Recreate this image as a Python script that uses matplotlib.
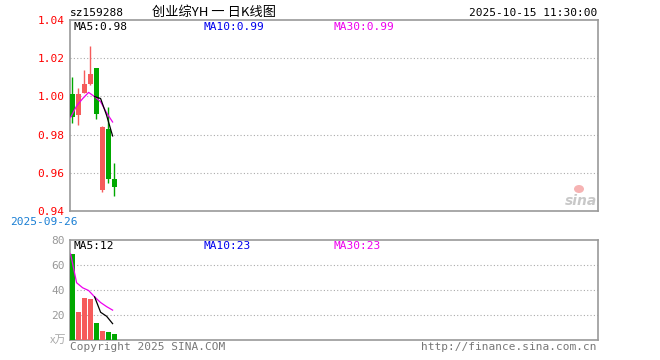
import matplotlib
matplotlib.use("Agg")
import matplotlib.pyplot as plt
from matplotlib.patches import Rectangle, Ellipse

# ── Données ───────────────────────────────────────────────────
opens  = [1.001, 0.990, 1.0016, 1.0065, 1.015, 0.951, 0.983, 0.957]
closes = [0.989, 1.001, 1.0065, 1.0118, 0.991, 0.984, 0.957, 0.9525]
highs  = [1.010, 1.0044, 1.014, 1.0263, 1.015, 0.9846, 0.9946, 0.9649]
lows   = [0.986, 0.9851, 1.0016, 1.006, 0.988, 0.9498, 0.9544, 0.9477]
ma5_price  = [None, None, None, None, 0.9999, 0.9989, 0.9901, 0.9793]
ma30_price = [0.989, 0.995, 0.9988, 1.0021, 0.9999, 0.9972, 0.9914, 0.9866]
volumes   = [68.8, 22.7, 33.9, 33.1, 13.9, 7.5, 6.7, 4.5]
ma5_vol   = [None, None, None, None, 34.5, 22.2, 19.0, 13.1]
ma30_vol  = [68.8, 45.8, 41.8, 39.6, 34.5, 30.0, 26.7, 23.9]
price_ticks = [0.94, 0.96, 0.98, 1.00, 1.02, 1.04]
vol_ticks = [20, 40, 60, 80]

RED = "#f65b5b"
GREEN = "#00a800"
FRAME = "#999999"
MONO = "DejaVu Sans Mono"
CJK = ["Noto Sans CJK SC", "DejaVu Sans"]
N_SLOTS = 88
W = 0.83

fig = plt.figure(figsize=(6.6, 3.6), dpi=100)
W_PX, H_PX = 660, 360
def axrect(x0, y0, x1, y1):
    return [x0 / W_PX, 1 - y1 / H_PX, (x1 - x0) / W_PX, (y1 - y0) / H_PX]

ax = fig.add_axes(axrect(70, 20, 598, 211))
axv = fig.add_axes(axrect(70, 240, 598, 340))

for a in (ax, axv):
    a.set_xlim(0, N_SLOTS)
    a.set_xticks([])
    for s in a.spines.values():
        s.set_color(FRAME)
        s.set_linewidth(1.2)
    a.tick_params(axis="y", length=0, pad=4)

# ── Chandeliers ───────────────────────────────────────────────
for i, (o, c, h, l) in enumerate(zip(opens, closes, highs, lows)):
    col = RED if c >= o else GREEN
    ax.vlines(i + W / 2, l, h, color=col, lw=1.0, zorder=2)
    ax.add_patch(Rectangle((i, min(o, c)), W, max(abs(c - o), 0.0003),
                           facecolor=col, edgecolor="none", zorder=3))

xs = [i + 0.1 for i in range(len(closes))]
ax.plot([x for x, v in zip(xs, ma30_price) if v is not None],
        [v for v in ma30_price if v is not None], color="#ee00ee", lw=0.9, zorder=4)
ax.plot([x for x, v in zip(xs, ma5_price) if v is not None],
        [v for v in ma5_price if v is not None], color="black", lw=0.9, zorder=5)

ax.set_ylim(0.94, 1.04)
ax.set_yticks(price_ticks)
ax.set_yticklabels([f"{t:.2f}" for t in price_ticks], color="red",
                   fontsize=8, family=MONO)
for t in price_ticks[1:-1]:
    ax.axhline(t, color="#aaaaaa", lw=0.8, ls=(0, (1, 2)), zorder=1)

# ── Volumes ───────────────────────────────────────────────────
for i, v in enumerate(volumes):
    col = RED if closes[i] >= opens[i] else GREEN
    axv.add_patch(Rectangle((i, 0), W, v, facecolor=col, edgecolor="none", zorder=3))
axv.plot([x for x, v in zip(xs, ma30_vol) if v is not None],
         [v for v in ma30_vol if v is not None], color="#ee00ee", lw=0.9, zorder=4)
axv.plot([x for x, v in zip(xs, ma5_vol) if v is not None],
         [v for v in ma5_vol if v is not None], color="black", lw=0.9, zorder=5)
axv.set_ylim(0, 80)
axv.set_yticks(vol_ticks)
axv.set_yticklabels([str(t) for t in vol_ticks], color="#999999",
                    fontsize=8, family=MONO)
for t in vol_ticks[:-1]:
    axv.axhline(t, color="#aaaaaa", lw=0.8, ls=(0, (1, 2)), zorder=1)

# ── Textes ────────────────────────────────────────────────────
def ftext(x, y, s, **kw):
    fig.text(x / W_PX, 1 - y / H_PX, s, **kw)

ftext(70, 13, "sz159288", fontsize=8, family=MONO, va="center")
ftext(214, 12, "创业综YH 一 日K线图", fontsize=9.5, family=CJK, va="center", ha="center")
ftext(597, 13, "2025-10-15 11:30:00", fontsize=8, family=MONO, va="center", ha="right")

ftext(74, 27, "MA5:0.98", fontsize=8, family=MONO, va="center", color="black")
ftext(204, 27, "MA10:0.99", fontsize=8, family=MONO, va="center", color="#0000ee")
ftext(334, 27, "MA30:0.99", fontsize=8, family=MONO, va="center", color="#ee00ee")

ftext(74, 246, "MA5:12", fontsize=8, family=MONO, va="center", color="black")
ftext(204, 246, "MA10:23", fontsize=8, family=MONO, va="center", color="#0000ee")
ftext(334, 246, "MA30:23", fontsize=8, family=MONO, va="center", color="#ee00ee")

ftext(10, 222, "2025-09-26", fontsize=8, family=MONO, va="center", color="#1a7fd4")
ftext(66, 340, "x万", fontsize=8, family=CJK, va="center", ha="right", color="#aaaaaa")
ftext(70, 347, "Copyright 2025 SINA.COM", fontsize=8, family=MONO, va="center", color="#777777")
ftext(597, 347, "http://finance.sina.com.cn", fontsize=8, family=MONO, va="center",
      ha="right", color="#777777")

# logo sina
ftext(597, 201, "sina", fontsize=10, style="italic", weight="bold", ha="right",
      va="center", color="#bbbbbb", alpha=0.8)
fig.patches.append(Ellipse((579 / W_PX, 1 - 189 / H_PX), 10 / W_PX, 8 / H_PX,
                           transform=fig.transFigure, facecolor="#f4a0a0",
                           edgecolor="none", alpha=0.8))

fig.savefig("out.png", dpi=100)
